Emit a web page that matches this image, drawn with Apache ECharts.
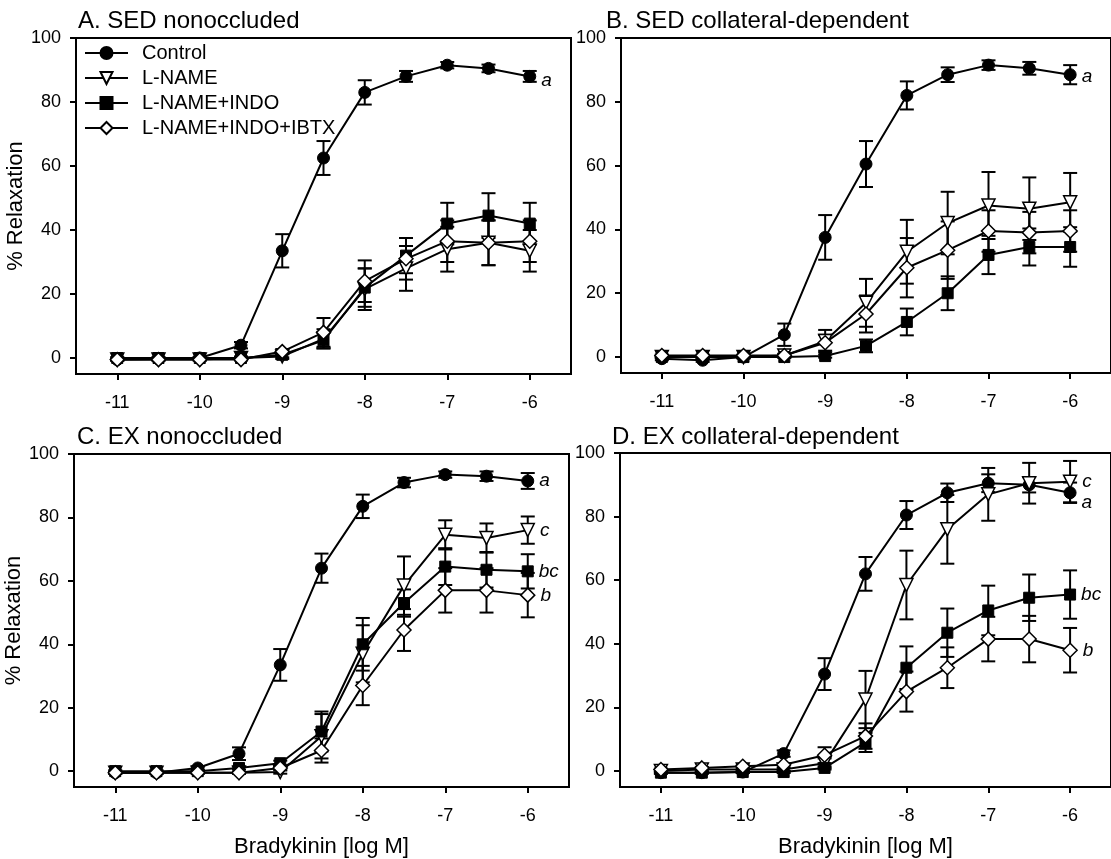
<!DOCTYPE html>
<html>
<head>
<meta charset="utf-8">
<script src="https://cdn.jsdelivr.net/npm/echarts@6/dist/echarts.min.js"></script>
<style>
	html, body { margin: 0; padding: 0; background: #fff; }
	#chart { width: 1111px; height: 859px; }
</style>
</head>
<body>
<div id="chart"></div>
<script>
	"use strict";

	/* shared axes */
	var doses = [-11, -10.5, -10, -9.5, -9, -8.5, -8, -7.5, -7, -6.5, -6];
	var xTicks = [-11, -10, -9, -8, -7, -6];
	var yTicks = [0, 20, 40, 60, 80, 100];
	var groupNames = ['Control', 'L-NAME', 'L-NAME+INDO', 'L-NAME+INDO+IBTX'];
	var panelTitles = ['A. SED nonoccluded', 'B. SED collateral-dependent', 'C. EX nonoccluded', 'D. EX collateral-dependent'];

	/* A. SED nonoccluded */
	var aControl = [-0.5, -0.3, 0, 4, 33.5, 62.5, 83, 88, 91.5, 90.5, 88];
	var aControlErr = [0.3, 0.3, 0.3, 1, 5.2, 5.3, 3.8, 1.7, 1, 1.2, 1.7];
	var aLname = [-0.5, -0.5, -0.5, 0, 0.5, 6, 21.5, 28, 34, 36, 33.5];
	var aLnameErr = [0.3, 0.3, 0.3, 0.5, 0.8, 3, 6.5, 7, 7, 7, 6.5];
	var aIndo = [0, 0, 0, 0, 1, 5.5, 22, 32, 42, 44.5, 42];
	var aIndoErr = [0.3, 0.3, 0.3, 0.3, 0.8, 2.5, 6, 5.5, 6.5, 7, 6.5];
	var aIbtx = [-0.5, -0.5, -0.5, -0.5, 2, 8, 24, 31, 36.5, 36, 36.5];
	var aIbtxErr = [0.3, 0.3, 0.3, 0.3, 0.8, 4.5, 6.5, 6.5, 6.5, 7, 6.5];
	var aLetters = ['a', '', '', ''];

	/* B. SED collateral-dependent */
	var bControl = [-0.5, -1, 0, 7, 37.5, 60.5, 82, 88.5, 91.5, 90.5, 88.5];
	var bControlErr = [0.5, 0.5, 0.5, 3.5, 7, 7.2, 4.4, 2.3, 1.5, 2, 3];
	var bLname = [0, 0, 0, 0.5, 5, 17, 33, 42, 47.5, 46.5, 48.5];
	var bLnameErr = [0.3, 0.3, 0.3, 0.5, 3.5, 7.5, 10, 9.8, 10.5, 9.8, 9.2];
	var bIndo = [0, 0, 0, 0, 0.3, 3.5, 11, 20, 32, 34.5, 34.5];
	var bIndoErr = [0.3, 0.3, 0.3, 0.3, 0.5, 2, 4.2, 5.3, 6, 5.8, 6.2];
	var bIbtx = [0.5, 0.5, 0.5, 0.5, 4.5, 13.5, 28, 33.5, 39.5, 39, 39.5];
	var bIbtxErr = [0.3, 0.3, 0.3, 0.5, 2.5, 5.8, 9.3, 9, 6.5, 6.5, 6.5];
	var bLetters = ['a', '', '', ''];

	/* C. EX nonoccluded */
	var cControl = [-0.5, -0.5, 1, 5.5, 33.5, 64, 83.5, 91, 93.5, 93, 91.5];
	var cControlErr = [0.3, 0.3, 0.5, 2, 5, 4.6, 3.7, 1.5, 1, 1.5, 2.5];
	var cLname = [-0.5, -0.5, -0.5, -0.5, -0.3, 11, 37, 58.5, 74.5, 73.5, 76];
	var cLnameErr = [0.3, 0.3, 0.3, 0.3, 0.5, 7, 9, 9.2, 4.6, 4.6, 4.3];
	var cIndo = [0, 0, 0, 1, 2.5, 12.5, 40, 53, 64.5, 63.5, 63];
	var cIndoErr = [0.3, 0.3, 0.3, 0.5, 0.8, 6.3, 8.3, 4.3, 5.8, 5.6, 5.4];
	var cIbtx = [-0.5, -0.5, -0.5, -0.5, 1, 6.5, 27, 44.5, 57, 57, 55.5];
	var cIbtxErr = [0.3, 0.3, 0.3, 0.3, 0.5, 3.8, 6.2, 6.6, 7, 7, 7];
	var cLetters = ['a', 'c', 'bc', 'b'];

	/* D. EX collateral-dependent */
	var dControl = [-0.5, -0.5, -0.3, 5.5, 30.5, 62, 80.5, 87.5, 90.5, 90, 87.5];
	var dControlErr = [0.3, 0.3, 0.3, 1, 5, 5.3, 4.4, 2.9, 2.8, 2.4, 3.2];
	var dLname = [0, 0.5, 0.5, 0.5, 2.5, 22.5, 58.5, 76, 87, 90.5, 91];
	var dLnameErr = [0.3, 0.3, 0.3, 0.5, 1.5, 9, 10.8, 10.8, 8.3, 6.4, 6.5];
	var dIndo = [-0.5, -0.5, -0.3, -0.3, 1, 9, 32.5, 43.5, 50.5, 54.5, 55.5];
	var dIndoErr = [0.3, 0.3, 0.3, 0.3, 0.5, 3, 6.7, 7.6, 7.8, 7.3, 7.6];
	var dIbtx = [0.5, 1, 1.5, 2, 5, 11, 25, 32.5, 41.5, 41.5, 38];
	var dIbtxErr = [0.3, 0.3, 0.3, 0.3, 2.5, 4, 6.3, 6.4, 7, 7.3, 7];
	var dLetters = ['a', 'c', 'bc', 'b'];

	var panels = [
		{ means: [aControl, aLname, aIndo, aIbtx], errs: [aControlErr, aLnameErr, aIndoErr, aIbtxErr], letters: aLetters },
		{ means: [bControl, bLname, bIndo, bIbtx], errs: [bControlErr, bLnameErr, bIndoErr, bIbtxErr], letters: bLetters },
		{ means: [cControl, cLname, cIndo, cIbtx], errs: [cControlErr, cLnameErr, cIndoErr, cIbtxErr], letters: cLetters },
		{ means: [dControl, dLname, dIndo, dIbtx], errs: [dControlErr, dLnameErr, dIndoErr, dIbtxErr], letters: dLetters }
	];

	var font = '"Liberation Sans", Arial, sans-serif';

	var grids = [
		{ left: 76, top: 38, width: 495, height: 336 },
		{ left: 621, top: 38, width: 495, height: 335 },
		{ left: 74, top: 454, width: 495, height: 335 },
		{ left: 620, top: 453, width: 495, height: 335 }
	];
	var titlePos = [[78, 9], [606, 9], [77, 425], [612, 425]];
	// label offsets for the letters (per panel, per group)
	var letterOffsets = [
		[[0, 4], [0, 0], [0, 0], [0, 0]],
		[[0, 2], [0, 0], [0, 0], [0, 0]],
		[[0, 0], [0, 1], [0, 0], [0, 1]],
		[[0, 10], [0, 0], [0, 0], [0, 0]]
	];

	var markers = [
		{ symbol: 'circle', symbolSize: 12, symbolRotate: 0, itemStyle: { color: '#000', borderColor: '#000', borderWidth: 1 } },
		{ symbol: 'triangle', symbolSize: 13, symbolRotate: 180, itemStyle: { color: '#fff', borderColor: '#000', borderWidth: 1.5 } },
		{ symbol: 'rect', symbolSize: 11, symbolRotate: 0, itemStyle: { color: '#000', borderColor: '#000', borderWidth: 1 } },
		{ symbol: 'diamond', symbolSize: 14, symbolRotate: 0, itemStyle: { color: '#fff', borderColor: '#000', borderWidth: 1.5 } }
	];

	function renderErrorBar(params, api) {
		var x = api.value(0);
		var lo = api.coord([x, api.value(1)]);
		var hi = api.coord([x, api.value(2)]);
		var half = 7;
		var style = { stroke: '#000', lineWidth: 2 };
		return {
			type: 'group',
			children: [
				{ type: 'line', shape: { x1: lo[0], y1: lo[1], x2: hi[0], y2: hi[1] }, style: style },
				{ type: 'line', shape: { x1: hi[0] - half, y1: hi[1], x2: hi[0] + half, y2: hi[1] }, style: style },
				{ type: 'line', shape: { x1: lo[0] - half, y1: lo[1], x2: lo[0] + half, y2: lo[1] }, style: style }
			]
		};
	}

	var xAxes = [], yAxes = [], series = [], titles = [];
	panels.forEach(function(p, k) {
		titles.push({
			text: panelTitles[k],
			left: titlePos[k][0],
			top: titlePos[k][1],
			padding: 0,
			textStyle: { fontFamily: font, fontSize: 24, fontWeight: 'normal', color: '#000' }
		});
		xAxes.push({
			type: 'value',
			gridIndex: k,
			min: -11.5,
			max: -5.5,
			name: k >= 2 ? 'Bradykinin [log M]' : '',
			nameLocation: 'middle',
			nameGap: 49,
			nameTextStyle: { fontFamily: font, fontSize: 22, color: '#000' },
			axisLine: { onZero: false, lineStyle: { color: '#000', width: 2 } },
			axisTick: { show: true, inside: false, length: 6, lineStyle: { color: '#000', width: 2 }, customValues: xTicks },
			axisLabel: { customValues: xTicks, margin: 20, fontFamily: font, fontSize: 18, color: '#000' },
			splitLine: { show: false }
		});
		yAxes.push({
			type: 'value',
			gridIndex: k,
			min: -5,
			max: 100,
			name: (k === 0 || k === 2) ? '% Relaxation' : '',
			nameLocation: 'middle',
			nameGap: 41,
			nameTextStyle: { fontFamily: font, fontSize: 22, color: '#000' },
			axisLine: { onZero: false, lineStyle: { color: '#000', width: 2 } },
			axisTick: { show: true, inside: false, length: 6, lineStyle: { color: '#000', width: 2 }, customValues: yTicks },
			axisLabel: { customValues: yTicks, margin: 15, fontFamily: font, fontSize: 18, color: '#000' },
			splitLine: { show: false }
		});

		p.means.forEach(function(vals, g) {
			var errs = p.errs[g];
			series.push({
				name: groupNames[g] + ' SEM',
				type: 'custom',
				xAxisIndex: k,
				yAxisIndex: k,
				z: 1,
				silent: true,
				renderItem: renderErrorBar,
				encode: { x: 0, y: [1, 2] },
				data: doses.map(function(d, i) { return [d, vals[i] - errs[i], vals[i] + errs[i]]; })
			});
		});
		p.means.forEach(function(vals, g) {
			var letter = p.letters[g];
			var last = doses.length - 1;
			series.push({
				name: groupNames[g],
				type: 'line',
				xAxisIndex: k,
				yAxisIndex: k,
				z: 2 + g,
				symbol: markers[g].symbol,
				symbolSize: markers[g].symbolSize,
				symbolRotate: markers[g].symbolRotate,
				showAllSymbol: true,
				lineStyle: { color: '#000', width: 2 },
				itemStyle: markers[g].itemStyle,
				label: {
					show: letter !== '',
					position: 'right',
					distance: 5,
					offset: letterOffsets[k][g],
					fontFamily: font,
					fontSize: 19,
					fontStyle: 'italic',
					color: '#000',
					formatter: function(prm) { return prm.dataIndex === last ? letter : ''; }
				},
				data: doses.map(function(d, i) { return [d, vals[i]]; })
			});
		});
	});

	var chart = echarts.init(document.getElementById('chart'));
	var option = {
		animation: false,
		backgroundColor: '#fff',
		title: titles,
		legend: {
			data: groupNames,
			orient: 'vertical',
			left: 84,
			top: 43,
			padding: 0,
			itemWidth: 43,
			itemHeight: 15,
			itemGap: 5,
			selectedMode: false,
			textStyle: { fontFamily: font, fontSize: 20, lineHeight: 20, color: '#000', padding: [0, 0, 0, 9] }
		},
		grid: grids.map(function(g) {
			return { left: g.left, top: g.top, width: g.width, height: g.height, show: true, borderColor: '#000', borderWidth: 2, backgroundColor: 'transparent' };
		}),
		xAxis: xAxes,
		yAxis: yAxes,
		series: series
	};
	chart.setOption(option);
</script>
</body>
</html>
